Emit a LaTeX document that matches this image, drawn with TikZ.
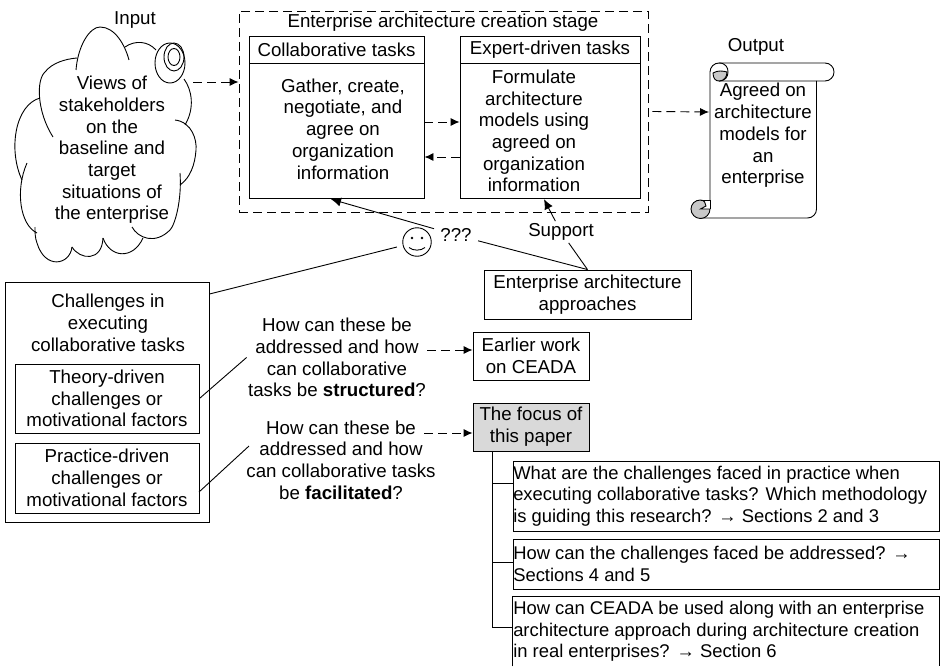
\documentclass[tikz,border=0pt]{standalone}
\usepackage{fontspec}
\setmainfont{Liberation Sans}
\usetikzlibrary{arrows.meta}
\definecolor{curlgray}{HTML}{C8C8C8}
\definecolor{focusgray}{HTML}{D9D9D9}
\begin{document}
\begin{tikzpicture}[x=1pt,y=-1pt,line width=0.9pt,
  label/.style={inner sep=0pt, align=center, font=\fontsize{18.7}{21.7}\selectfont},
  labelbox/.style={label, draw, rectangle},
  qbox/.style={inner sep=0pt, align=flush left, font=\fontsize{18.4}{21.7}\selectfont, text width=426pt, minimum height=#1},
  flow/.style={-{Latex[length=9pt,width=8pt]}, dash pattern=on 9pt off 5pt},
  solidarrow/.style={-{Latex[length=10pt,width=9pt]}}]
\useasboundingbox (0,0) rectangle (941,666);
\draw[] (53,137) .. controls (37,112) and (36,80) .. (45,72) .. controls (52,63) and (65,59) .. (77,58);
\draw[] (76,70) .. controls (78,45) and (90,27) .. (100,27) .. controls (115,27) and (125,45) .. (129,60);
\draw[] (125,47) .. controls (135,40) and (148,41) .. (156,50);
\draw[] (184,79) .. controls (192,90) and (195,108) .. (185,125);
\draw[] (175,120) .. controls (192,122) and (197,140) .. (196,150) .. controls (195,165) and (190,178) .. (180,185);
\draw[] (180,173) .. controls (182,200) and (175,225) .. (170,230) .. controls (155,245) and (138,238) .. (132,227);
\draw[] (143,238) .. controls (133,260) and (110,258) .. (103,238);
\draw[] (103,238) .. controls (102,262) and (80,260) .. (72,247);
\draw[] (72,247) .. controls (70,265) and (45,270) .. (37,243) .. controls (35,238) and (35,232) .. (35,227);
\draw[] (37,233) .. controls (20,225) and (15,190) .. (27,163);
\draw[] (22,180) .. controls (8,150) and (15,105) .. (40,98);
\draw[] (170,63) ellipse[x radius=15, y radius=20];
\draw[] (174,57) ellipse[x radius=10, y radius=14];
\draw[] (174,57) ellipse[x radius=6, y radius=8.5];
\node[label] (inputlabel) at (135,20){Input};
\node[label] (views) at (112,150){Views of\\stakeholders\\on the\\baseline and\\target\\situations of\\the enterprise};
\coordinate (cloudout) at (193,82);
\node[draw, dash pattern=on 9pt off 5pt, minimum width=409pt, minimum height=201pt, inner sep=0pt] (stage) at (443.5,111.5){};
\node[label] (stagetitle) at (443,23){Enterprise architecture creation stage};
\node[labelbox, minimum width=175pt, minimum height=26.5pt] (collabhead) at (336.5,50){Collaborative tasks};
\node[draw, minimum width=175pt, minimum height=135.5pt, inner sep=0pt] (collabbody) at (336.5,131){};
\node[label] (collabtext) at (343,129){Gather, create,\\negotiate, and\\agree on\\organization\\information};
\node[labelbox, minimum width=180pt, minimum height=26.5pt] (experthead) at (550,50){Expert-driven tasks};
\node[draw, minimum width=180pt, minimum height=135.5pt, inner sep=0pt] (expertbody) at (550,131){};
\node[label] (experttext) at (534,131){Formulate\\architecture\\models using\\agreed on\\organization\\information};
\draw[rounded corners=9pt] (710,200) -- (710,63) -- (834,63) -- (834,81) -- (719,81);
\draw[] (719,63) .. controls (726,63) and (728,68) .. (728,72) .. controls (728,77) and (725,81) .. (719,81);
\filldraw[fill=curlgray] (713,73) .. controls (718,70) and (723,71) .. (727,72) .. controls (727,77) and (724,81) .. (719,81) .. controls (716,81) and (713,79) .. (713,73) -- cycle;
\draw[rounded corners=9pt] (816.5,81) -- (816.5,218) -- (700,218);
\filldraw[fill=curlgray] (710,209) .. controls (710,214) and (706,218.5) .. (700.5,218.5) .. controls (695,218.5) and (691,214) .. (691,209) .. controls (691,204) and (695,200) .. (700.5,200) .. controls (704,200) and (706,203) .. (706,206) -- (700.5,209) -- cycle;
\draw[] (700.5,200) -- (710,200) -- (710,209);
\node[label] (outputlabel) at (756,47){Output};
\node[label] (agreed) at (763,135.5){Agreed on\\architecture\\models for\\an\\enterprise};
\coordinate (scrollin) at (709,112);
\node[draw, circle, inner sep=0pt, minimum size=28.5pt] (smiley) at (417,242){};
\fill[] (412,238) circle[radius=1.4];
\fill[] (422,238) circle[radius=1.4];
\draw[] (409,247.5) .. controls (413,251) and (421,251) .. (425,247.5);
\node[label, inner sep=6pt] (qmarks) at (456,235){???};
\node[labelbox, minimum width=207pt, minimum height=49pt] (approaches) at (587.5,294.5){Enterprise architecture\\approaches};
\node[label, inner sep=2pt] (support) at (561,232){Support};
\node[draw, minimum width=204pt, minimum height=240pt, inner sep=0pt] (challenges) at (107,402){};
\node[label] (challengestext) at (108,323){Challenges in\\executing\\collaborative tasks};
\node[labelbox, minimum width=184pt, minimum height=69pt] (theory) at (107,398.5){Theory-driven\\challenges or\\motivational factors};
\node[labelbox, minimum width=184pt, minimum height=70pt] (practice) at (107,478){Practice-driven\\challenges or\\motivational factors};
\node[label, text width=180pt, align=flush center] (howa) at (337,357.5){How can these be\\addressed and how\\can collaborative\\tasks be \textbf{structured}?};
\node[label, text width=200pt, align=flush center] (howb) at (341,460){How can these be\\addressed and how\\can collaborative tasks\\be \textbf{facilitated}?};
\coordinate (practiceout) at (199,492);
\coordinate (howbin) at (249,446);
\coordinate (howaout) at (427,350);
\coordinate (howbout) at (424,433);
\node[labelbox, minimum width=116pt, minimum height=48pt] (earlier) at (531,356){Earlier work\\on CEADA};
\node[labelbox, fill=focusgray, minimum width=116pt, minimum height=48pt] (focus) at (531,427){The focus of\\this paper};
\node[draw, qbox=70pt] (qone) at (726.25,496){What are the challenges faced in practice when\\executing collaborative tasks? Which methodology\\is guiding this research? → Sections 2 and 3};
\node[draw, qbox=50pt] (qtwo) at (726.25,564){How can the challenges faced be addressed? →\\Sections 4 and 5};
\node[qbox=69pt] (qthree) at (726.25,631.5){How can CEADA be used along with an enterprise\\architecture approach during architecture creation\\in real enterprises? → Section 6};
\draw[] (qthree.south west) -- (qthree.north west) -- (qthree.north east) -- (qthree.south east);
\coordinate (trunk) at ([xshift=-39pt]focus.south);
\draw[flow] (cloudout) -- ([yshift=29.5pt]stage.west);
\draw[flow] ([xshift=4pt]stage.east) -- (scrollin);
\draw[flow] ([yshift=9pt]collabbody.east) -- ([yshift=9pt]expertbody.west);
\draw[flow] ([yshift=-26pt]expertbody.west) -- ([yshift=-26pt]collabbody.east);
\draw[] (approaches.north) -- (qmarks);
\draw[solidarrow] (qmarks) -- ([xshift=-5.5pt]collabbody.south);
\draw[] (approaches.north) -- (support);
\draw[solidarrow] (support) -- ([xshift=-6pt]expertbody.south);
\draw[shorten >=6pt] ([yshift=108pt]challenges.east) -- (smiley);
\draw[] (theory.east) -- (howa.west);
\draw[] (practiceout) -- (howbin);
\draw[flow] (howaout) -- ([yshift=6pt]earlier.west);
\draw[flow] (howbout) -- ([yshift=-6pt]focus.west);
\draw[] (trunk) |- ([yshift=13pt]qone.west);
\draw[] (trunk) |- ([yshift=2pt]qtwo.west);
\draw[] (trunk) |- ([yshift=4.5pt]qthree.west);
\end{tikzpicture}
\end{document}
